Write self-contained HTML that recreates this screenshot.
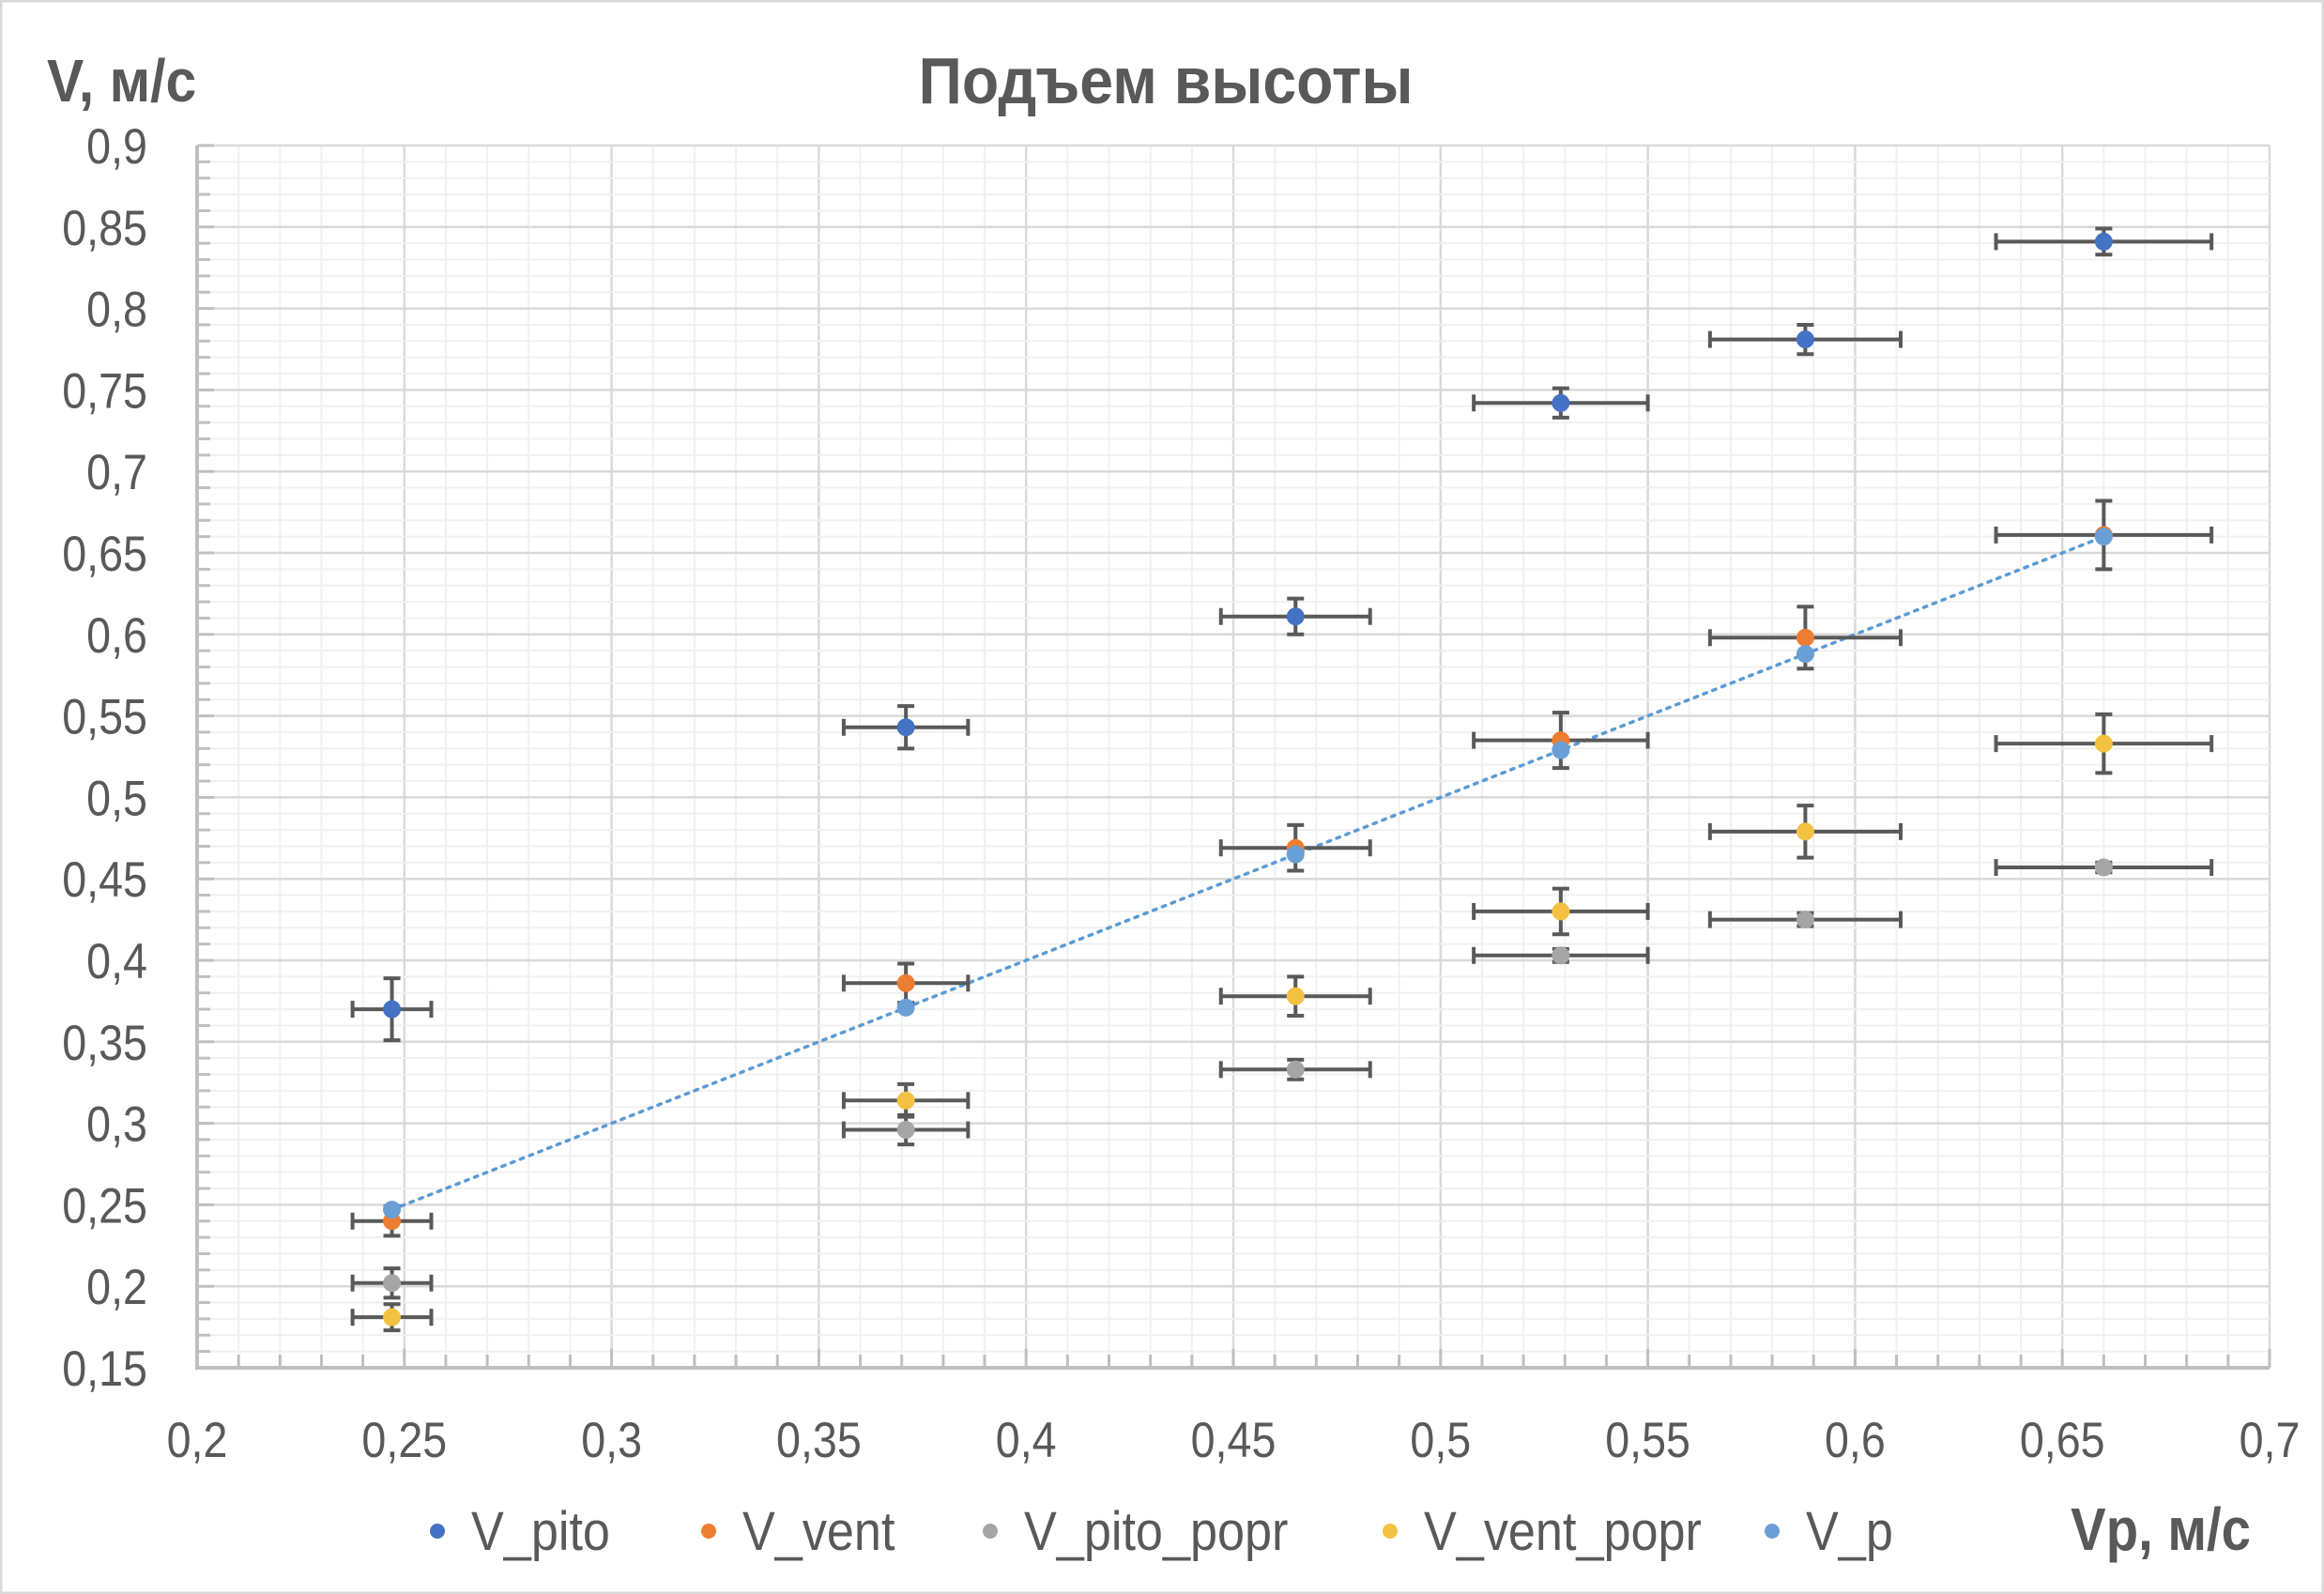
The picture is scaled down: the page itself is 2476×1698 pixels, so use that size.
<!DOCTYPE html>
<html><head><meta charset="utf-8"><style>
html,body{margin:0;padding:0;background:#fff}
svg{display:block}
text{font-family:"Liberation Sans",sans-serif;fill:#595959}
</style></head><body>
<svg id="chart" width="2476" height="1698" viewBox="0 0 2476 1698" xmlns="http://www.w3.org/2000/svg">
<rect x="1" y="1" width="2474" height="1696" fill="#fff" stroke="#d9d9d9" stroke-width="3"/>
<text transform="translate(1242,110) scale(0.92,1)" font-size="70" font-weight="bold" text-anchor="middle">Подъем высоты</text>
<text transform="translate(50,108) scale(0.92,1)" font-size="64" font-weight="bold">V, м/с</text>
<text transform="translate(2398,1651) scale(0.88,1)" font-size="64" font-weight="bold" text-anchor="end">Vp, м/с</text>
<g id="grid"></g><g id="axes"></g><g id="trend"></g><g id="errs"></g><g id="marks"></g><g id="legend"></g>
</svg>
<script>
const xs = [0.247, 0.371, 0.465, 0.529, 0.588, 0.660];
const xErr = [0.0095, 0.015, 0.018, 0.021, 0.023, 0.026];
const vPito = [0.370, 0.543, 0.611, 0.742, 0.781, 0.841];
const vPitoErr = [0.019, 0.013, 0.011, 0.009, 0.009, 0.008];
const vVent = [0.240, 0.386, 0.469, 0.535, 0.598, 0.661];
const vVentErr = [0.009, 0.012, 0.014, 0.017, 0.019, 0.021];
const vPitoPopr = [0.202, 0.296, 0.333, 0.403, 0.425, 0.457];
const vPitoPoprErr = [0.009, 0.009, 0.006, 0.004, 0.004, 0.003];
const vVentPopr = [0.181, 0.314, 0.378, 0.430, 0.479, 0.533];
const vVentPoprErr = [0.008, 0.010, 0.012, 0.014, 0.016, 0.018];
const vP = [0.247, 0.371, 0.465, 0.529, 0.588, 0.660];
const xTicks = ["0,2","0,25","0,3","0,35","0,4","0,45","0,5","0,55","0,6","0,65","0,7"];
const yTicks = ["0,15","0,2","0,25","0,3","0,35","0,4","0,45","0,5","0,55","0,6","0,65","0,7","0,75","0,8","0,85","0,9"];
const seriesNames = ["V_pito","V_vent","V_pito_popr","V_vent_popr","V_p"];

const NS="http://www.w3.org/2000/svg";
const L=210,R=2418,T=155,B=1457;
const X0=0.2,X1=0.7,Y0=0.15,Y1=0.9;
const sx=v=>L+(v-X0)/(X1-X0)*(R-L);
const sy=v=>B-(v-Y0)/(Y1-Y0)*(B-T);
function mk(tag,attrs,parent){const e=document.createElementNS(NS,tag);for(const k in attrs)e.setAttribute(k,attrs[k]);parent.appendChild(e);return e;}
const grid=document.getElementById('grid'),axes=document.getElementById('axes'),trend=document.getElementById('trend'),errs=document.getElementById('errs'),marks=document.getElementById('marks'),legend=document.getElementById('legend');

for(let i=0;i<=50;i++){const v=X0+i*0.01;const major=i%5===0;
 const l=mk('line',{x1:sx(v),x2:sx(v),y1:T,y2:B,stroke:major?'#d9d9d9':'#f0f0f0','stroke-width':major?2.5:2},grid);
 
 
 if(i>0){const t=mk('line',{x1:sx(v),x2:sx(v),y1:B,y2:B-(major?20:14),stroke:'#bfbfbf','stroke-width':3},axes);
 
 }
}
for(let i=0;i<=75;i++){const v=Y0+i*0.01;const major=i%5===0;
 const l=mk('line',{x1:L,x2:R,y1:sy(v),y2:sy(v),stroke:major?'#d9d9d9':'#f0f0f0','stroke-width':major?2.5:2},grid);
 
 
 const t=mk('line',{x1:L,x2:L+(major?18:14),y1:sy(v),y2:sy(v),stroke:'#bfbfbf','stroke-width':3},axes);
 
 
}
const ax1=mk('line',{x1:L,x2:L,y1:T,y2:B+2,stroke:'#bfbfbf','stroke-width':4},axes);


const ax2=mk('line',{x1:L-2,x2:R,y1:B,y2:B,stroke:'#bfbfbf','stroke-width':4},axes);



xTicks.forEach((s,i)=>{const t=mk('text',{transform:'translate('+sx(X0+i*0.05)+','+(B+95)+') scale(0.88,1)','font-size':53,'text-anchor':'middle'},axes);t.textContent=s;
 
 });
yTicks.forEach((s,i)=>{const t=mk('text',{transform:'translate(157,'+(sy(Y0+i*0.05)+19)+') scale(0.88,1)','font-size':53,'text-anchor':'end'},axes);t.textContent=s;
 
 });

const tl=mk('line',{x1:sx(xs[0]),y1:sy(vP[0]),x2:sx(xs[5]),y2:sy(vP[5]),stroke:'#5b9bd5','stroke-width':3.5,'stroke-dasharray':'3.5 7','stroke-linecap':'round'},trend);



const colors=['#4472c4','#ed7d31','#a5a5a5','#f4c242','#6a9fd6'];
const ys=[vPito,vVent,vPitoPopr,vVentPopr,vP];
const yE=[vPitoErr,vVentErr,vPitoPoprErr,vVentPoprErr,null];
const EC='#595959',C=9;
ys.forEach((arr,si)=>{
 arr.forEach((v,i)=>{
  if(yE[si]){
   const cx=sx(xs[i]),cy=sy(v),x1=sx(xs[i]-xErr[i]),x2=sx(xs[i]+xErr[i]),ya=sy(v+yE[si][i]),yb=sy(v-yE[si][i]);
   const g=mk('g',{stroke:EC,'stroke-width':4},errs);
   
   
   mk('line',{x1:x1,x2:x2,y1:cy,y2:cy},g);
   mk('line',{x1:x1,x2:x1,y1:cy-C,y2:cy+C},g);
   mk('line',{x1:x2,x2:x2,y1:cy-C,y2:cy+C},g);
   mk('line',{x1:cx,x2:cx,y1:ya,y2:yb},g);
   mk('line',{x1:cx-C,x2:cx+C,y1:ya,y2:ya},g);
   mk('line',{x1:cx-C,x2:cx+C,y1:yb,y2:yb},g);
  }
  const c=mk('circle',{cx:sx(xs[i]),cy:sy(v),r:9.5,fill:colors[si]},marks);
  
  
 });
});

const lx=[466,755,1055,1481,1888];
seriesNames.forEach((n,i)=>{
 const g=mk('g',{},legend);
 
 
 mk('circle',{cx:lx[i],cy:1631,r:8,fill:colors[i]},g);
 const t=mk('text',{transform:'translate('+(lx[i]+36)+',1651) scale(0.9,1)','font-size':58},g);t.textContent=n;
});
</script>
</body></html>
